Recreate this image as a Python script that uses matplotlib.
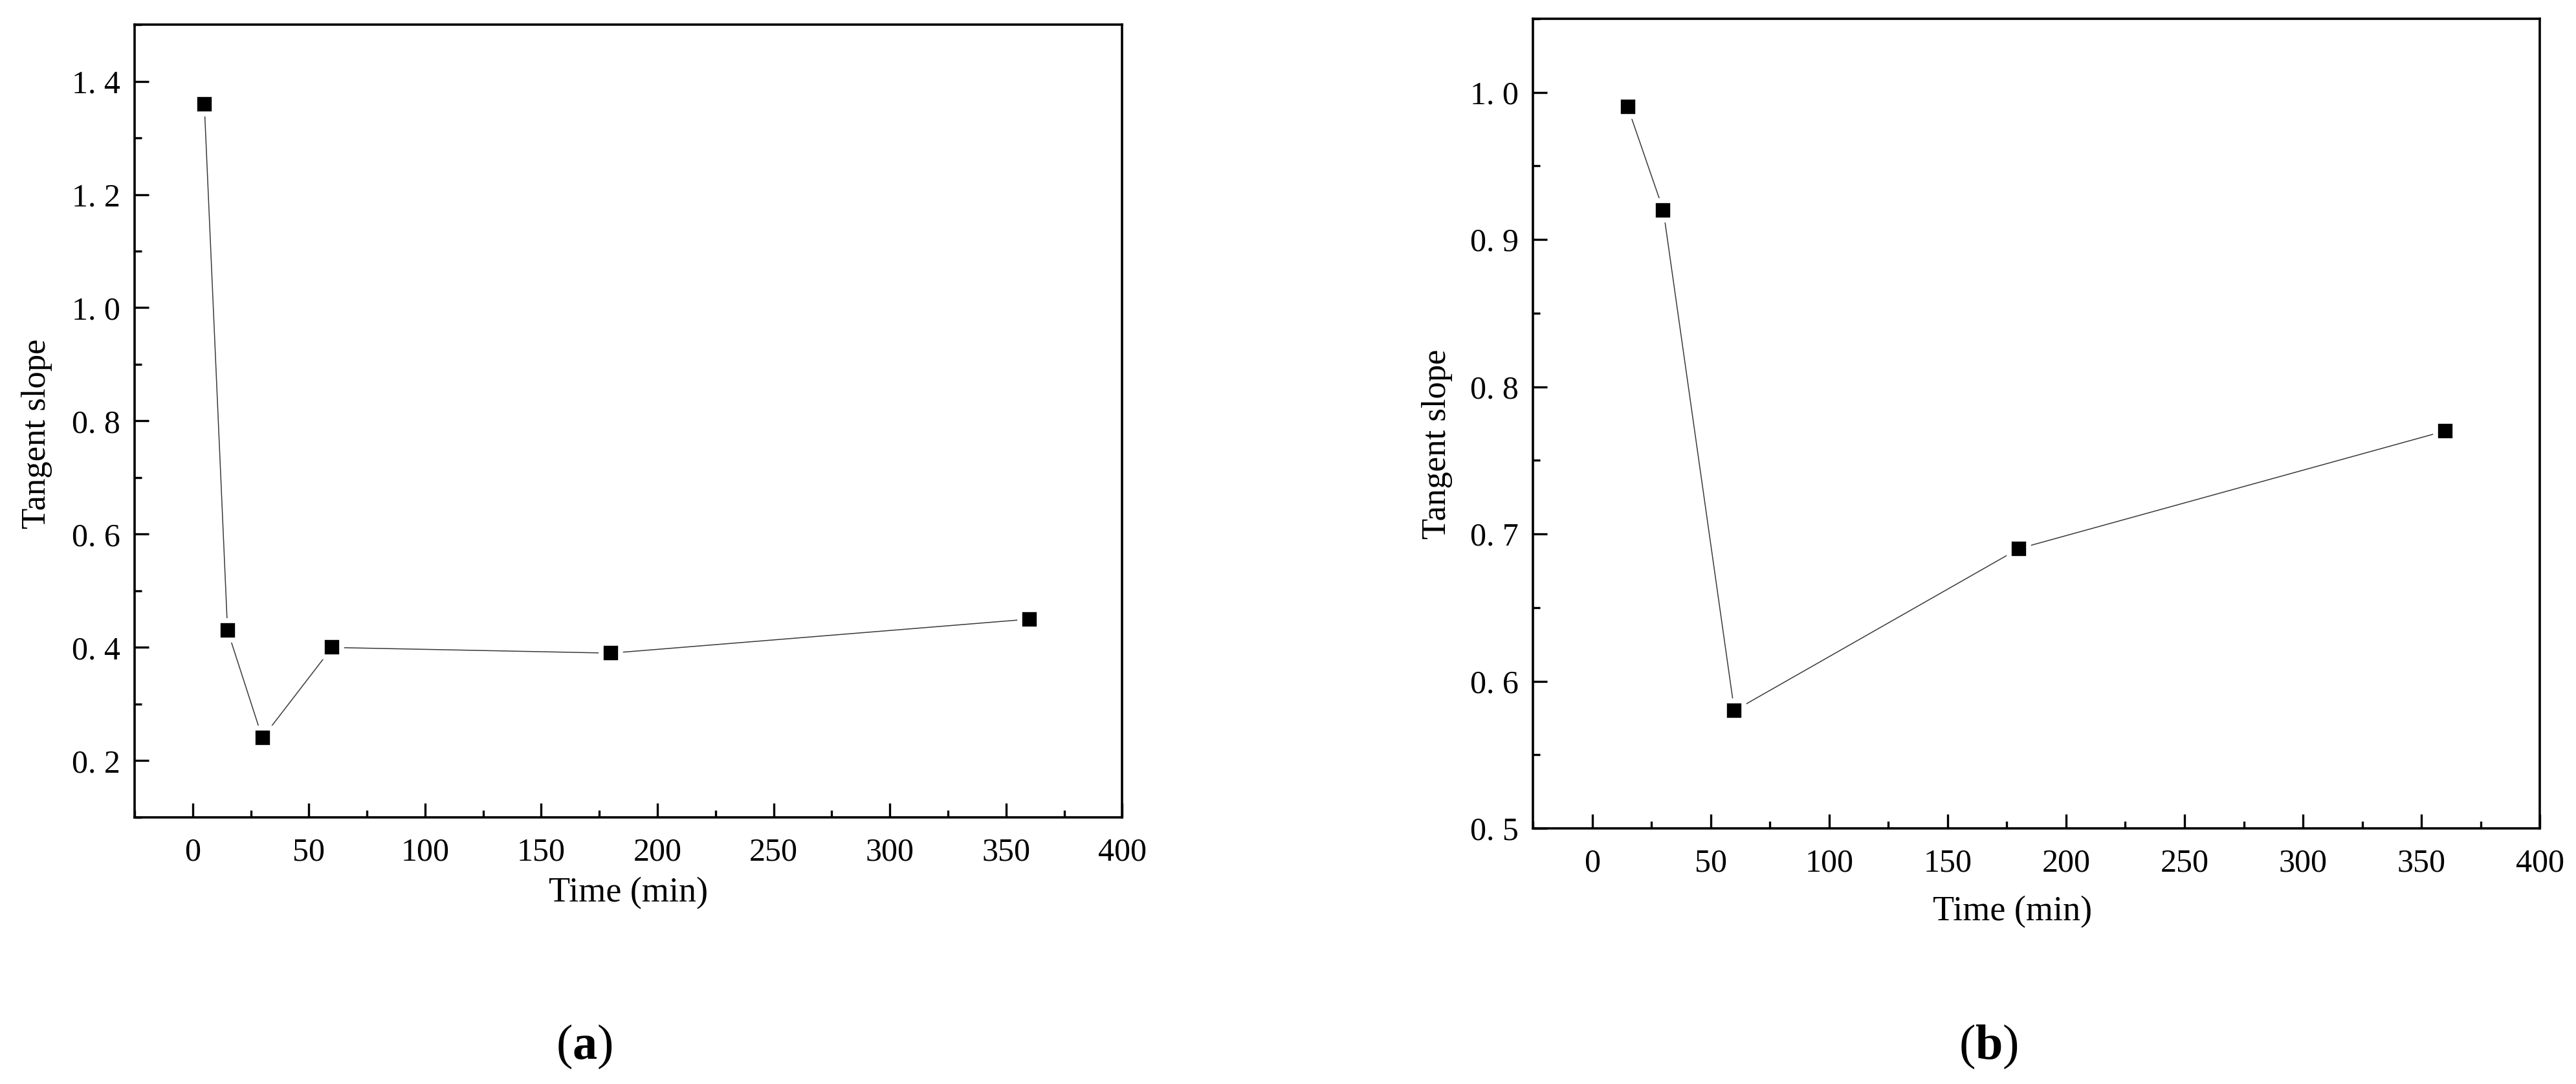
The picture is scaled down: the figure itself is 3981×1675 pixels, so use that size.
import matplotlib
matplotlib.use("Agg")
import matplotlib.pyplot as plt
from matplotlib.ticker import MultipleLocator, FuncFormatter

# (a) tangent slope vs time
time_a = [5, 15, 30, 60, 180, 360]
slope_a = [1.36, 0.43, 0.24, 0.40, 0.39, 0.45]

# (b) tangent slope vs time
time_b = [15, 30, 60, 180, 360]
slope_b = [0.99, 0.92, 0.58, 0.69, 0.77]

panel_labels = ["a", "b"]

plt.rcParams["font.family"] = ["Liberation Serif", "DejaVu Serif"]
plt.rcParams["mathtext.fontset"] = "custom"
plt.rcParams["mathtext.rm"] = "Liberation Serif"
plt.rcParams["mathtext.bf"] = "Liberation Serif:bold"

DPI = 100
fig = plt.figure(figsize=(3981 / DPI, 1675 / DPI), dpi=DPI)

ax_a = fig.add_axes([0.05225, 0.246, 0.3834, 0.7313])
ax_b = fig.add_axes([0.5951, 0.2358, 0.3909, 0.7469])


def dec_fmt(v, pos):
    return f"{v:.1f}".replace(".", ". ")


def style(ax, xlim, ylim, ymajor, yminor):
    ax.set_xlim(*xlim)
    ax.set_ylim(*ylim)
    ax.xaxis.set_major_locator(MultipleLocator(50))
    ax.xaxis.set_minor_locator(MultipleLocator(25))
    ax.yaxis.set_major_locator(MultipleLocator(ymajor))
    ax.yaxis.set_minor_locator(MultipleLocator(yminor))
    ax.yaxis.set_major_formatter(FuncFormatter(dec_fmt))
    for s in ax.spines.values():
        s.set_linewidth(2.6)
    ax.tick_params(which="both", direction="in", top=False, right=False,
                   width=2.4, labelsize=36)
    ax.tick_params(which="major", length=16)
    ax.tick_params(which="minor", length=8)
    ax.tick_params(axis="x", which="major", pad=22)
    ax.tick_params(axis="y", which="major", pad=16)
    ax.set_xlabel("Time (min)", fontsize=39)
    ax.set_ylabel("Tangent slope", fontsize=38)


def draw(ax, x, y):
    ax.plot(x, y, color="#3a3a3a", lw=1.1, marker="s", ms=22,
            mfc="black", mec="white", mew=5.5, zorder=3, clip_on=False)


draw(ax_a, time_a, slope_a)
style(ax_a, (-25, 400), (0.1, 1.5), 0.2, 0.1)
ax_a.xaxis.set_label_coords(0.5, -0.075)
ax_a.yaxis.set_label_coords(-0.083, 0.484)

draw(ax_b, time_b, slope_b)
style(ax_b, (-25, 400), (0.5, 1.05), 0.1, 0.05)
ax_b.xaxis.set_label_coords(0.476, -0.083)
ax_b.yaxis.set_label_coords(-0.080, 0.475)

# panel captions, bold letter only
for xc, lab in zip([903, 3073], panel_labels):
    fig.text(xc / 3981, 1 - 1617 / 1675, r"($\mathbf{%s}$)" % lab, fontsize=55,
             ha="center", va="center")

fig.savefig("out.png", dpi=DPI, facecolor="white")
